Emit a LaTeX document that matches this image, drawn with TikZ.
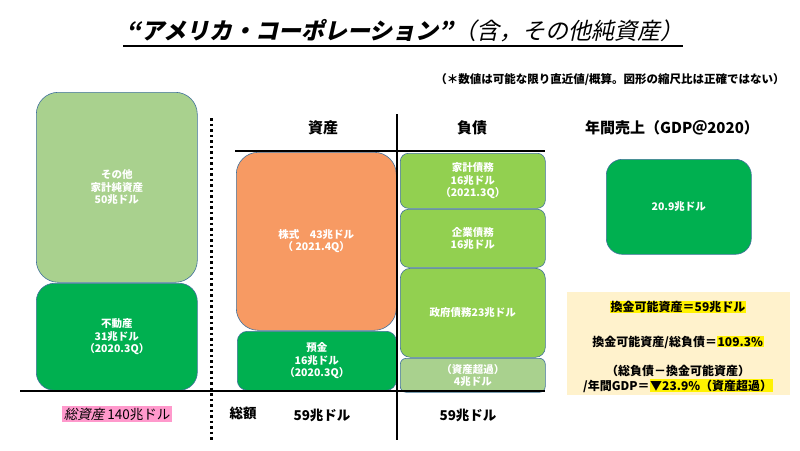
\documentclass[tikz,border=0pt]{standalone}
\usepackage{fontspec}
\setmainfont{Noto Sans CJK JP}[AutoFakeSlant=0.22]
\newfontfamily\slantjp{Noto Sans CJK JP}[FakeSlant=0.22, BoldFeatures={FakeSlant=0.22}]
\definecolor{lgreen}{HTML}{A9D18E}
\definecolor{mgreen}{HTML}{00B050}
\definecolor{ygreen}{HTML}{92D050}
\definecolor{orng}{HTML}{F79A63}
\definecolor{edgec}{HTML}{41719C}
\definecolor{cream}{HTML}{FFF2CC}
\definecolor{pinkc}{HTML}{FF99CC}
\setlength{\fboxsep}{0.6pt}
\begin{document}
\begin{tikzpicture}[x=1pt,y=-1pt,
  blk/.style={draw=edgec, line width=0.6pt, text=white, font=\fontsize{10.5}{12.5}\selectfont\bfseries, align=center, anchor=north west, inner sep=0pt},
  rule/.style={line width=2.5pt, black},
  dotrule/.style={line width=3pt, black, dash pattern=on 2.5pt off 3pt},
  head/.style={font=\fontsize{15}{17}\selectfont\bfseries, inner sep=0pt},
  lab/.style={font=\fontsize{13.5}{16}\selectfont\bfseries, inner sep=0pt},
  ptext/.style={font=\fontsize{12}{14}\selectfont\bfseries, inner sep=0pt}]
\useasboundingbox[fill=white] (0,0) rectangle (800,450);

% title
\node[inner sep=0pt] (title) at (405,31) {\fontsize{23}{26}\selectfont\slantjp\bfseries “アメリカ・コーポレーション”\mdseries（含，その他純資産）};
\coordinate (ulA) at (123,46);
\coordinate (ulB) at (683,46);
\draw[line width=1.2pt] (ulA) -- (ulB);

\node[inner sep=0pt, font=\fontsize{11.5}{13}\selectfont\bfseries] (note) at (610,80) {（＊数値は可能な限り直近値/概算。図形の縮尺比は正確ではない）};

% left column
\node[blk, fill=lgreen, rounded corners=22pt, minimum width=161pt, minimum height=190pt] (other) at (36,92) {その他\\家計純資産\\50兆ドル};
\node[blk, fill=mgreen, rounded corners=18pt, minimum width=161pt, minimum height=107pt] (estate) at (36,283) {不動産\\31兆ドル\\（2020.3Q）};

% assets
\node[blk, fill=orng, rounded corners=22pt, minimum width=160pt, minimum height=178pt] (stock) at (236,152) {株式　43兆ドル\\（ 2021.4Q）};
\node[blk, fill=mgreen, rounded corners=10pt, minimum width=159pt, minimum height=59pt] (deposit) at (237,331) {預金\\16兆ドル\\（2020.3Q）};

% liabilities
\node[blk, fill=ygreen, rounded corners=8pt, minimum width=145pt, minimum height=55pt] (hh) at (400,153) {家計債務\\16兆ドル\\（2021.3Q）};
\node[blk, fill=ygreen, rounded corners=8pt, minimum width=145pt, minimum height=58pt] (corp) at (400,209) {企業債務\\16兆ドル};
\node[blk, fill=ygreen, rounded corners=10pt, minimum width=145pt, minimum height=89pt] (gov) at (400,268) {政府債務23兆ドル};
\node[blk, fill=lgreen, rounded corners=6pt, minimum width=145pt, minimum height=34pt] (surplus) at (400,358) {（資産超過）\\4兆ドル};

% GDP
\node[head] (gdph) at (672,128) {年間売上（GDP＠2020）};
\node[blk, fill=mgreen, rounded corners=16pt, minimum width=145pt, minimum height=95pt] (gdp) at (606,159) {20.9兆ドル};

% headers
\node[head] (asseth) at (323,128) {資産};
\node[head] (liabh) at (472,128) {負債};

% rules
\coordinate (tA) at (235,151);
\coordinate (tB) at (545,151);
\coordinate (vA) at (397,114);
\coordinate (vB) at (397,440);
\coordinate (bA) at (20,391);
\coordinate (bB) at (545,391);
\coordinate (dA) at (211,118);
\coordinate (dB) at (211,442);
\draw[rule] (tA) -- (tB);
\draw[rule] (vA) -- (vB);
\draw[rule] (bA) -- (bB);
\draw[dotrule] (dA) -- (dB);

% bottom labels
\node[lab, fill=pinkc, inner xsep=2pt, inner ysep=1.5pt, font=\fontsize{13.5}{16}\selectfont] (total) at (117,414) {\itshape 総資産\upshape\ 140兆ドル};
\node[lab, font=\fontsize{13.5}{16}\selectfont\bfseries] (sogaku) at (243,413) {総額};
\node[lab] (sum1) at (322,415) {59兆ドル};
\node[lab] (sum2) at (468,415) {59兆ドル};

% panel
\fill[cream] (567,292) rectangle (790,395);
\node[ptext] (p1) at (678,307) {\colorbox{yellow}{換金可能資産＝59兆ドル}};
\node[ptext] (p2) at (678,342) {換金可能資産/総負債＝\colorbox{yellow}{109.3\%}};
\node[ptext] (p3) at (678,371) {（総負債－換金可能資産）};
\node[ptext] (p4) at (678,386) {/年間GDP＝\colorbox{yellow}{▼23.9\%（資産超過）}};
\end{tikzpicture}
\end{document}
